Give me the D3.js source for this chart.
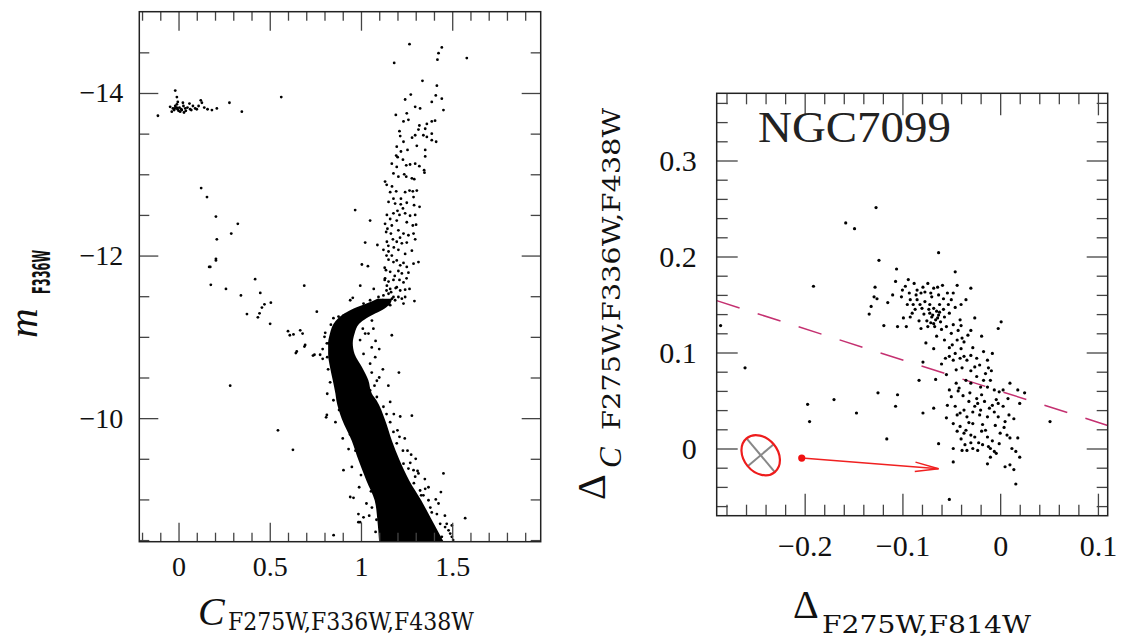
<!DOCTYPE html>
<html>
<head>
<meta charset="utf-8">
<script src="https://cdn.jsdelivr.net/npm/d3@7"></script>
<style>
  body { margin: 0; background: #fff; }
  svg { display: block; }
</style>
</head>
<body>
<div id="chart"></div>
<script>
// ---- left panel: C index vs m_F336W ----
const cmdXMajor = [0, 0.5, 1, 1.5];
const cmdXMinor = [-0.2, -0.1, 0.1, 0.2, 0.3, 0.4, 0.6, 0.7, 0.8, 0.9, 1.1, 1.2, 1.3, 1.4, 1.6, 1.7, 1.8, 1.9];
const cmdYMajor = [-14, -12, -10];
const cmdYMinor = [-14.5, -13.5, -13, -12.5, -11.5, -11, -10.5, -9.5, -9, -8.5];

// dense main sequence / sub-giant core: magnitude, blue edge, red edge
const msMag  = [-11.47, -11.41, -11.35, -11.29, -11.23, -11.16, -11.04, -10.92, -10.79, -10.63, -10.47, -10.30, -10.22, -9.99, -9.72, -9.49, -9.23, -8.99, -8.74, -8.45];
const msBlue = [1.09, 1.03, 0.96, 0.91, 0.875, 0.85, 0.83, 0.82, 0.82, 0.83, 0.845, 0.86, 0.865, 0.895, 0.95, 0.985, 1.03, 1.075, 1.09, 1.10];
const msRed  = [1.17, 1.16, 1.13, 1.08, 1.03, 0.99, 0.965, 0.955, 0.965, 1.005, 1.04, 1.06, 1.085, 1.13, 1.17, 1.21, 1.265, 1.33, 1.39, 1.46];

const hbStars = [
  [-0.113, -13.72], [-0.018, -14.03], [-0.009, -13.95], [-0.004, -13.89], [-0.046, -13.83], [-0.031, -13.81],
  [-0.018, -13.84], [-0.005, -13.80], [0.005, -13.82], [0.018, -13.79], [0.027, -13.84], [0.037, -13.81],
  [0.009, -13.77], [0.049, -13.82], [0.064, -13.80], [0.079, -13.84], [0.091, -13.81], [-0.009, -13.86],
  [0.024, -13.88], [0.060, -13.87], [0.110, -13.84], [0.122, -13.91], [0.128, -13.88], [0.141, -13.82],
  [0.159, -13.80], [0.183, -13.79], [0.210, -13.81], [0.279, -13.88], [0.347, -13.77], [0.563, -13.95],
  [-0.037, -13.77], [-0.024, -13.79], [0.000, -13.78], [0.015, -13.80], [0.040, -13.78], [0.070, -13.79],
  [-0.020, -13.81], [0.100, -13.80], [0.030, -13.76], [-0.010, -13.82]
];

const rgbStars = [
  [1.266, -14.60], [1.443, -14.56], [1.425, -14.49], [1.419, -14.41], [1.580, -14.43], [1.182, -14.37],
  [1.337, -14.15], [1.416, -14.09], [1.273, -13.98], [1.410, -13.97], [1.443, -13.93], [1.242, -13.92],
  [1.388, -13.89], [1.452, -13.79], [1.297, -13.83], [1.324, -13.81], [1.191, -13.73], [1.251, -13.75],
  [1.260, -13.67], [1.233, -13.65], [1.388, -13.65], [1.361, -13.62], [1.406, -13.66], [1.352, -13.56],
  [1.315, -13.55], [1.211, -13.53], [1.297, -13.48], [1.342, -13.48], [1.361, -13.46], [1.388, -13.50],
  [1.388, -13.42], [1.412, -13.40], [1.215, -13.47], [1.233, -13.40], [1.196, -13.34], [1.219, -13.28],
  [1.255, -13.30], [1.306, -13.35], [1.352, -13.30], [1.352, -13.22], [1.193, -13.23], [1.201, -13.21],
  [1.169, -13.13], [1.196, -13.09], [1.248, -13.11], [1.269, -13.12], [1.297, -13.13], [1.320, -13.10],
  [1.346, -13.05], [1.348, -13.02], [1.178, -13.01], [1.205, -12.97], [1.237, -13.00], [1.248, -12.97],
  [1.279, -12.95], [1.292, -12.94], [1.132, -12.91], [1.141, -12.87], [1.160, -12.78], [1.193, -12.79],
  [1.242, -12.78], [1.266, -12.80], [1.284, -12.79], [1.306, -12.80], [1.178, -12.70], [1.219, -12.70],
  [1.288, -12.72], [1.151, -12.66], [1.187, -12.64], [1.218, -12.63], [1.251, -12.65], [1.291, -12.62],
  [1.321, -12.60], [1.142, -12.50], [1.178, -12.52], [1.211, -12.50], [1.242, -12.52], [1.269, -12.49],
  [1.297, -12.50], [1.132, -12.39], [1.169, -12.37], [1.196, -12.43], [1.251, -12.41], [1.284, -12.37],
  [1.302, -12.38], [1.138, -12.29], [1.164, -12.27], [1.205, -12.31], [1.233, -12.27], [1.260, -12.25],
  [1.288, -12.27], [1.297, -12.20], [1.142, -12.17], [1.196, -12.17], [1.224, -12.15], [1.251, -12.16],
  [1.123, -12.07], [1.151, -12.05], [1.169, -12.00], [1.205, -12.07], [1.242, -12.02], [1.279, -12.06],
  [1.315, -11.92], [1.151, -11.95], [1.178, -11.92], [1.196, -11.94], [1.233, -11.91], [1.251, -11.86],
  [1.288, -11.90], [1.137, -11.82], [1.160, -11.80], [1.205, -11.81], [1.224, -11.78], [1.260, -11.79],
  [1.132, -11.72], [1.151, -11.68], [1.178, -11.70], [1.211, -11.70], [1.233, -11.67], [1.266, -11.59],
  [1.142, -11.63], [1.160, -11.59], [1.196, -11.61], [1.215, -11.57], [1.242, -11.58], [1.096, -11.49],
  [1.123, -11.51], [1.151, -11.53], [1.178, -11.49], [1.205, -11.49], [1.224, -11.47], [1.293, -11.44],
  [1.160, -12.45], [1.175, -12.20], [1.140, -12.00], [1.185, -11.75], [1.130, -11.85], [1.165, -11.55],
  [1.214, -12.22], [1.230, -12.58], [1.150, -12.12], [1.190, -11.60], [1.120, -11.45], [1.170, -11.47],
  [1.145, -12.33], [1.180, -12.10], [1.215, -11.88], [1.140, -11.57], [1.250, -11.72], [1.155, -11.40],
  [1.130, -11.70], [1.200, -12.55], [1.170, -12.85], [1.230, -13.18], [1.320, -13.60], [1.280, -13.45]
];

const otherStars = [
  [0.124, -12.83], [0.156, -12.72], [0.205, -12.48], [0.325, -12.39], [0.289, -12.27], [0.210, -12.20],
  [0.205, -11.96], [0.205, -11.94], [0.174, -11.86], [0.168, -11.86], [0.177, -11.64], [0.260, -11.59],
  [0.342, -11.51], [0.420, -11.71], [0.448, -11.54], [0.506, -11.42], [0.471, -11.40], [0.457, -11.36],
  [0.444, -11.29], [0.435, -11.24], [0.375, -11.28], [0.502, -11.16], [0.600, -11.07], [0.610, -11.02],
  [0.630, -11.03], [0.667, -11.08], [0.680, -11.04], [0.694, -10.90], [0.690, -10.88], [0.643, -10.80],
  [0.648, -10.82], [0.737, -10.77], [0.745, -10.78], [0.776, -10.78], [0.790, -10.73], [0.758, -11.31],
  [0.689, -11.63], [0.804, -11.05], [0.813, -10.92], [0.283, -10.40], [0.968, -12.56], [1.050, -12.43],
  [1.023, -12.16], [1.090, -12.13], [1.005, -11.89], [1.038, -11.87], [0.996, -11.63], [1.169, -11.02],
  [1.208, -10.56], [1.070, -11.59], [0.627, -9.61], [0.813, -10.04], [0.904, -9.36], [1.279, -10.03],
  [1.215, -10.02], [1.452, -9.32], [1.438, -9.09], [1.571, -8.77], [1.498, -8.68], [1.489, -8.58],
  [1.275, -9.55], [0.850, -8.56], [0.986, -8.72], [0.959, -9.02], [0.545, -9.85], [0.809, -10.01],
  [0.849, -10.22], [0.932, -9.62], [0.941, -9.03], [0.995, -8.72], [0.986, -8.82], [1.014, -8.78],
  [1.087, -10.26], [1.123, -10.14], [1.178, -9.83], [1.196, -9.69], [1.211, -9.77], [1.233, -9.44],
  [1.260, -9.38], [1.288, -9.36], [1.297, -9.28], [1.315, -9.32], [1.324, -9.11], [1.352, -9.13],
  [1.342, -9.05], [1.370, -8.99], [1.388, -8.84], [1.416, -8.82], [1.434, -8.70], [1.461, -8.66],
  [1.480, -8.62], [1.498, -8.54], [1.443, -8.54], [1.397, -8.60], [1.352, -8.54], [1.050, -10.34],
  [1.074, -10.40], [1.041, -11.04], [1.068, -11.10], [1.059, -10.87], [1.078, -10.75], [1.050, -10.67],
  [1.087, -10.46], [1.059, -10.56], [1.014, -10.79], [0.995, -10.96], [1.023, -11.04], [0.822, -10.92],
  [0.831, -10.44], [0.840, -10.77], [0.941, -11.45], [0.955, -11.48], [1.014, -11.41], [1.050, -11.45],
  [0.904, -11.26], [0.877, -11.25], [0.849, -11.23], [1.087, -11.37], [1.160, -11.39], [1.187, -11.45],
  [1.242, -11.49], [1.233, -11.41], [0.880, -10.10], [0.935, -9.90], [1.160, -10.20], [1.230, -9.60],
  [1.290, -9.20], [1.380, -8.90], [1.080, -8.60], [1.060, -8.90], [1.000, -9.30], [0.970, -9.60],
  [0.820, -10.60], [0.815, -10.30], [0.860, -9.95], [0.900, -9.75], [0.950, -9.40], [0.990, -9.15],
  [1.030, -8.95], [1.045, -8.80], [1.150, -10.40], [1.180, -10.05], [1.240, -9.75], [1.300, -9.50],
  [1.350, -9.25], [1.410, -9.00], [1.460, -8.80], [1.505, -8.50], [1.120, -10.60], [1.100, -10.85],
  [1.060, -11.20], [0.800, -11.00], [0.790, -10.85], [1.160, -9.95], [1.270, -9.45], [1.330, -9.05],
  [0.870, -10.45], [0.905, -10.05], [0.940, -9.80], [1.010, -9.45], [1.055, -9.10], [1.085, -8.75],
  [1.140, -10.05], [1.200, -9.85], [1.255, -9.60], [1.310, -9.35], [1.370, -9.15], [1.425, -8.95],
  [1.470, -8.70], [1.100, -10.50], [1.080, -10.95], [1.010, -11.10], [0.835, -11.15], [0.815, -10.75]
];

// ---- right panel: Delta_F275W,F814W vs Delta_C ----
const rgXMajor = [-0.2, -0.1, 0, 0.1];
const rgXMinor = [-0.28, -0.26, -0.24, -0.22, -0.18, -0.16, -0.14, -0.12, -0.08, -0.06, -0.04, -0.02, 0.02, 0.04, 0.06, 0.08];
const rgYMajor = [0, 0.1, 0.2, 0.3];
const rgYMinor = [-0.06, -0.04, -0.02, 0.02, 0.04, 0.06, 0.08, 0.12, 0.14, 0.16, 0.18, 0.22, 0.24, 0.26, 0.28, 0.32, 0.34, 0.36];

const rgbChromo = [
  [-0.127, 0.251], [-0.158, 0.235], [-0.149, 0.229], [-0.124, 0.196], [-0.063, 0.204], [-0.106, 0.187],
  [-0.046, 0.184], [-0.094, 0.176], [-0.191, 0.169], [-0.128, 0.168], [-0.129, 0.158], [-0.126, 0.156],
  [-0.132, 0.148], [-0.134, 0.140], [-0.119, 0.128], [-0.107, 0.174], [-0.101, 0.158], [-0.097, 0.169],
  [-0.088, 0.172], [-0.085, 0.165], [-0.081, 0.162], [-0.077, 0.163], [-0.074, 0.172], [-0.068, 0.167],
  [-0.063, 0.160], [-0.059, 0.170], [-0.054, 0.162], [-0.044, 0.170], [-0.030, 0.167], [-0.035, 0.155],
  [-0.085, 0.155], [-0.077, 0.153], [-0.072, 0.150], [-0.068, 0.146], [-0.065, 0.143], [-0.063, 0.139],
  [-0.070, 0.137], [-0.066, 0.134], [-0.061, 0.132], [-0.057, 0.137], [-0.052, 0.141], [-0.068, 0.130],
  [-0.055, 0.127], [-0.048, 0.129], [-0.092, 0.137], [-0.090, 0.141], [-0.099, 0.136], [-0.105, 0.127],
  [-0.096, 0.127], [-0.081, 0.125], [-0.074, 0.127], [-0.076, 0.110], [-0.068, 0.104], [-0.041, 0.134],
  [-0.043, 0.123], [-0.039, 0.115], [-0.026, 0.136], [-0.030, 0.123], [-0.019, 0.117], [0.001, 0.132],
  [-0.002, 0.125], [-0.050, 0.120], [-0.044, 0.113], [-0.037, 0.111], [-0.065, 0.117], [-0.079, 0.090],
  [-0.083, 0.071], [-0.066, 0.072], [-0.055, 0.077], [-0.052, 0.096], [-0.048, 0.092], [-0.046, 0.099],
  [-0.041, 0.094], [-0.037, 0.096], [-0.034, 0.092], [-0.030, 0.097], [-0.026, 0.085], [-0.021, 0.087],
  [-0.017, 0.101], [-0.013, 0.092], [-0.012, 0.084], [-0.008, 0.099], [-0.039, 0.084], [-0.035, 0.071],
  [-0.030, 0.068], [-0.024, 0.075], [-0.017, 0.071], [-0.013, 0.064], [-0.010, 0.071], [-0.006, 0.061],
  [-0.001, 0.059], [0.003, 0.061], [0.010, 0.068], [0.018, 0.061], [0.025, 0.058], [0.020, 0.047],
  [0.051, 0.028], [0.003, 0.044], [-0.004, 0.051], [-0.008, 0.045], [-0.019, 0.056], [-0.023, 0.047],
  [-0.026, 0.044], [-0.032, 0.049], [-0.037, 0.040], [-0.041, 0.037], [-0.046, 0.044], [-0.050, 0.054],
  [-0.052, 0.061], [-0.054, 0.045], [-0.044, 0.035], [-0.034, 0.033], [-0.028, 0.038], [-0.021, 0.035],
  [-0.013, 0.033], [-0.002, 0.033], [0.009, 0.035], [0.014, 0.031], [-0.048, 0.026], [-0.041, 0.023],
  [-0.035, 0.019], [-0.068, 0.042], [-0.079, 0.037], [-0.107, 0.044], [-0.105, 0.056], [-0.125, 0.058],
  [-0.147, 0.037], [-0.170, 0.051], [-0.197, 0.046], [-0.195, 0.028], [-0.261, 0.084], [-0.286, 0.128],
  [-0.116, 0.010], [-0.044, 0.018], [-0.037, 0.016], [-0.030, 0.014], [-0.026, 0.012], [-0.019, 0.018],
  [-0.013, 0.012], [-0.015, 0.019], [0.007, 0.014], [0.010, 0.011], [0.018, 0.011], [-0.063, 0.005],
  [-0.048, 0.000], [-0.039, -0.002], [-0.034, -0.002], [-0.028, 0.000], [-0.023, -0.002], [-0.012, 0.002],
  [-0.010, 0.000], [-0.006, -0.003], [-0.004, -0.005], [-0.001, 0.005], [0.016, -0.003], [0.020, -0.009],
  [-0.048, -0.014], [-0.013, -0.016], [0.010, -0.017], [0.014, -0.022], [0.005, -0.019], [0.016, -0.037],
  [-0.052, -0.053], [-0.086, 0.160], [-0.080, 0.146], [-0.072, 0.141], [-0.062, 0.150], [-0.058, 0.145],
  [-0.075, 0.133], [-0.060, 0.124], [-0.089, 0.150], [-0.093, 0.162], [-0.110, 0.160], [-0.115, 0.152],
  [-0.070, 0.158], [-0.064, 0.168], [-0.050, 0.155], [-0.046, 0.147], [-0.040, 0.150], [-0.083, 0.133],
  [-0.057, 0.113], [-0.052, 0.105], [-0.045, 0.082], [-0.042, 0.063], [-0.031, 0.058], [-0.020, 0.064],
  [-0.016, 0.049], [-0.005, 0.024], [-0.028, 0.026], [-0.022, 0.006], [-0.008, 0.008], [0.004, 0.022],
  [-0.055, 0.032], [-0.060, 0.088], [-0.028, 0.105], [-0.009, 0.081], [0.008, 0.052], [-0.036, 0.004],
  [-0.073, 0.145], [-0.069, 0.139], [-0.064, 0.136], [-0.071, 0.131], [-0.067, 0.127], [-0.062, 0.142],
  [-0.078, 0.140], [-0.082, 0.150], [-0.087, 0.145], [-0.095, 0.150], [-0.100, 0.165], [-0.092, 0.155],
  [-0.079, 0.168], [-0.071, 0.162], [-0.058, 0.156], [-0.053, 0.150], [-0.048, 0.162], [-0.040, 0.128],
  [-0.033, 0.118], [-0.049, 0.108], [-0.056, 0.094], [-0.040, 0.104], [-0.024, 0.094], [-0.015, 0.078],
  [-0.030, 0.081], [-0.045, 0.068], [-0.038, 0.055], [-0.024, 0.052], [-0.011, 0.042], [-0.006, 0.038],
  [0.005, 0.028], [-0.018, 0.025], [-0.032, 0.027], [-0.040, 0.010], [-0.018, 0.004], [0.000, 0.016],
  [-0.030, 0.006], [-0.010, -0.009], [0.012, 0.000], [-0.043, 0.060], [-0.020, 0.040], [-0.002, 0.047]
];

const fiducialX = [-0.29, 0.11];
const fiducialY = [0.154, 0.024];

const errEllipse = { x: -0.245, y: -0.007, rx: 22, ry: 17, angle: 50 };
const arrowFrom = [-0.203, -0.010];
const arrowTo = [-0.063, -0.021];

const svg = d3.select('#chart').append('svg')
  .attr('width', 1126)
  .attr('height', 642);
svg.append('rect').attr('width', 1126).attr('height', 642).attr('fill', '#fff');

const fmtNum = (d) => d3.format('~g')(d).replace('-', '\u2212');

function drawFrame(g, x, y, w, h, o) {
  const axes = [
    { axis: d3.axisBottom(x), at: `translate(0,${h})`, vals: o.xMajor, len: o.xMajLen, label: true, pad: o.xPad },
    { axis: d3.axisBottom(x), at: `translate(0,${h})`, vals: o.xMinor, len: o.xMinLen },
    { axis: d3.axisTop(x), at: 'translate(0,0)', vals: o.xMajor, len: o.xMajLen },
    { axis: d3.axisTop(x), at: 'translate(0,0)', vals: o.xMinor, len: o.xMinLen },
    { axis: d3.axisLeft(y), at: 'translate(0,0)', vals: o.yMajor, len: o.yMajLen, label: true, pad: o.yPad },
    { axis: d3.axisLeft(y), at: 'translate(0,0)', vals: o.yMinor, len: o.yMinLen },
    { axis: d3.axisRight(y), at: `translate(${w},0)`, vals: o.yMajor, len: o.yMajLen },
    { axis: d3.axisRight(y), at: `translate(${w},0)`, vals: o.yMinor, len: o.yMinLen }
  ];
  axes.forEach((a) => {
    const ag = g.append('g')
      .attr('transform', a.at)
      .call(a.axis.tickValues(a.vals).tickSize(-a.len)
        .tickPadding(a.pad || 0)
        .tickFormat(a.label ? fmtNum : () => ''));
    ag.select('.domain').remove();
    ag.selectAll('line').attr('stroke', '#444').attr('stroke-width', 1.3);
    ag.selectAll('text')
      .attr('fill', '#111')
      .attr('font-family', '"Liberation Serif", serif')
      .attr('font-size', o.fontSize);
  });
  g.append('rect')
    .attr('width', w).attr('height', h)
    .attr('fill', 'none')
    .attr('stroke', '#222')
    .attr('stroke-width', 1.5);
}

// ---------- left panel ----------
const L = { x: 139.3, y: 11.7, w: 401.4, h: 530 };
const xL = d3.scaleLinear().domain([-0.215, 1.985]).range([0, L.w]);
const yL = d3.scaleLinear().domain([-15, -8.48]).range([0, L.h]);

const gL = svg.append('g').attr('transform', `translate(${L.x},${L.y})`);
svg.append('clipPath').attr('id', 'clipL')
  .append('rect').attr('width', L.w).attr('height', L.h);

const plotL = gL.append('g').attr('clip-path', 'url(#clipL)');

plotL.append('path')
  .datum(msMag.map((m, i) => ({ m, b: msBlue[i], r: msRed[i] })))
  .attr('fill', '#000')
  .attr('d', d3.area()
    .y((d) => yL(d.m))
    .x0((d) => xL(d.b))
    .x1((d) => xL(d.r))
    .curve(d3.curveMonotoneY));

plotL.selectAll('circle.star')
  .data(hbStars.concat(rgbStars, otherStars))
  .enter()
  .append('circle')
  .attr('class', 'star')
  .attr('cx', (d) => xL(d[0]))
  .attr('cy', (d) => yL(d[1]))
  .attr('r', 1.4)
  .attr('fill', '#000');

drawFrame(gL, xL, yL, L.w, L.h, {
  xMajor: cmdXMajor, xMinor: cmdXMinor, yMajor: cmdYMajor, yMinor: cmdYMinor,
  xMajLen: 19, xMinLen: 9, yMajLen: 19, yMinLen: 10, xPad: 14, yPad: 16, fontSize: 28
});

// axis titles (left)
svg.append('text')
  .attr('x', 198).attr('y', 625)
  .attr('fill', '#111')
  .attr('font-family', '"Liberation Serif", serif')
  .attr('font-style', 'italic')
  .attr('font-size', 40)
  .text('C');
svg.append('text')
  .attr('x', 228).attr('y', 630)
  .attr('fill', '#111')
  .attr('font-family', '"DejaVu Serif", serif')
  .attr('font-size', 24)
  .attr('textLength', 246)
  .attr('lengthAdjust', 'spacingAndGlyphs')
  .text('F275W,F336W,F438W');

svg.append('text')
  .attr('transform', 'translate(37,338) rotate(-90)')
  .attr('fill', '#111')
  .attr('font-family', '"Liberation Serif", serif')
  .attr('font-style', 'italic')
  .attr('font-size', 41)
  .text('m');
svg.append('text')
  .attr('transform', 'translate(50,294) rotate(-90)')
  .attr('fill', '#111')
  .attr('font-family', '"DejaVu Sans", sans-serif')
  .attr('font-weight', 'bold')
  .attr('font-size', 25)
  .attr('textLength', 44)
  .attr('lengthAdjust', 'spacingAndGlyphs')
  .text('F336W');

// ---------- right panel ----------
const R = { x: 716.7, y: 93.3, w: 391, h: 422.4 };
const xR = d3.scaleLinear().domain([-0.29, 0.11]).range([0, R.w]);
const yR = d3.scaleLinear().domain([-0.07, 0.37]).range([R.h, 0]);

const gR = svg.append('g').attr('transform', `translate(${R.x},${R.y})`);
svg.append('clipPath').attr('id', 'clipR')
  .append('rect').attr('width', R.w).attr('height', R.h);
const plotR = gR.append('g').attr('clip-path', 'url(#clipR)');

plotR.append('path')
  .datum(fiducialX.map((x, i) => [x, fiducialY[i]]))
  .attr('fill', 'none')
  .attr('stroke', '#c43070')
  .attr('stroke-width', 1.5)
  .attr('stroke-dasharray', '24,19')
  .attr('d', d3.line().x((d) => xR(d[0])).y((d) => yR(d[1])));

plotR.selectAll('circle.star')
  .data(rgbChromo)
  .enter()
  .append('circle')
  .attr('class', 'star')
  .attr('cx', (d) => xR(d[0]))
  .attr('cy', (d) => yR(d[1]))
  .attr('r', 1.6)
  .attr('fill', '#000');

// error ellipse with its axes
const eg = plotR.append('g')
  .attr('transform', `translate(${xR(errEllipse.x)},${yR(errEllipse.y)}) rotate(${errEllipse.angle})`);
eg.append('line')
  .attr('x1', -errEllipse.rx).attr('x2', errEllipse.rx)
  .attr('stroke', '#888').attr('stroke-width', 2);
eg.append('line')
  .attr('y1', -errEllipse.ry).attr('y2', errEllipse.ry)
  .attr('stroke', '#888').attr('stroke-width', 2);
eg.append('ellipse')
  .attr('rx', errEllipse.rx).attr('ry', errEllipse.ry)
  .attr('fill', 'none')
  .attr('stroke', '#ee1c1c')
  .attr('stroke-width', 2.2);

// reddening arrow
const ax0 = xR(arrowFrom[0]), ay0 = yR(arrowFrom[1]);
const ax1 = xR(arrowTo[0]), ay1 = yR(arrowTo[1]);
const ang = Math.atan2(ay1 - ay0, ax1 - ax0);
const head = 24, spread = 0.2;
plotR.append('line')
  .attr('x1', ax0).attr('y1', ay0).attr('x2', ax1).attr('y2', ay1)
  .attr('stroke', '#f02020').attr('stroke-width', 1.5);
plotR.append('path')
  .attr('d', `M${ax1 - head * Math.cos(ang - spread)},${ay1 - head * Math.sin(ang - spread)}L${ax1},${ay1}L${ax1 - head * Math.cos(ang + spread)},${ay1 - head * Math.sin(ang + spread)}`)
  .attr('fill', 'none')
  .attr('stroke', '#f02020')
  .attr('stroke-width', 1.5);
plotR.append('circle')
  .attr('cx', ax0).attr('cy', ay0).attr('r', 3.6)
  .attr('fill', '#f01010');

drawFrame(gR, xR, yR, R.w, R.h, {
  xMajor: rgXMajor, xMinor: rgXMinor, yMajor: rgYMajor, yMinor: rgYMinor,
  xMajLen: 22, xMinLen: 11, yMajLen: 21, yMinLen: 11, xPad: 19, yPad: 20, fontSize: 30
});

svg.append('text')
  .attr('x', 758).attr('y', 142)
  .attr('fill', '#222')
  .attr('font-family', '"Liberation Serif", serif')
  .attr('font-size', 45)
  .attr('textLength', 193)
  .attr('lengthAdjust', 'spacingAndGlyphs')
  .text('NGC7099');

// axis titles (right)
svg.append('text')
  .attr('x', 793).attr('y', 618)
  .attr('fill', '#111')
  .attr('font-family', '"Liberation Serif", serif')
  .attr('font-size', 40)
  .text('\u0394');
svg.append('text')
  .attr('x', 822).attr('y', 633)
  .attr('fill', '#111')
  .attr('font-family', '"DejaVu Serif", serif')
  .attr('font-size', 25)
  .attr('textLength', 209)
  .attr('lengthAdjust', 'spacingAndGlyphs')
  .text('F275W,F814W');

svg.append('text')
  .attr('transform', 'translate(605,500) rotate(-90)')
  .attr('fill', '#111')
  .attr('font-family', '"Liberation Serif", serif')
  .attr('font-size', 40)
  .text('\u0394');
svg.append('text')
  .attr('transform', 'translate(621,468) rotate(-90)')
  .attr('fill', '#111')
  .attr('font-family', '"Liberation Serif", serif')
  .attr('font-style', 'italic')
  .attr('font-size', 31)
  .text('C');
svg.append('text')
  .attr('transform', 'translate(620,430) rotate(-90)')
  .attr('fill', '#111')
  .attr('font-family', '"DejaVu Serif", serif')
  .attr('font-size', 25)
  .attr('textLength', 322)
  .attr('lengthAdjust', 'spacingAndGlyphs')
  .text('F275W,F336W,F438W');
</script>
</body>
</html>
